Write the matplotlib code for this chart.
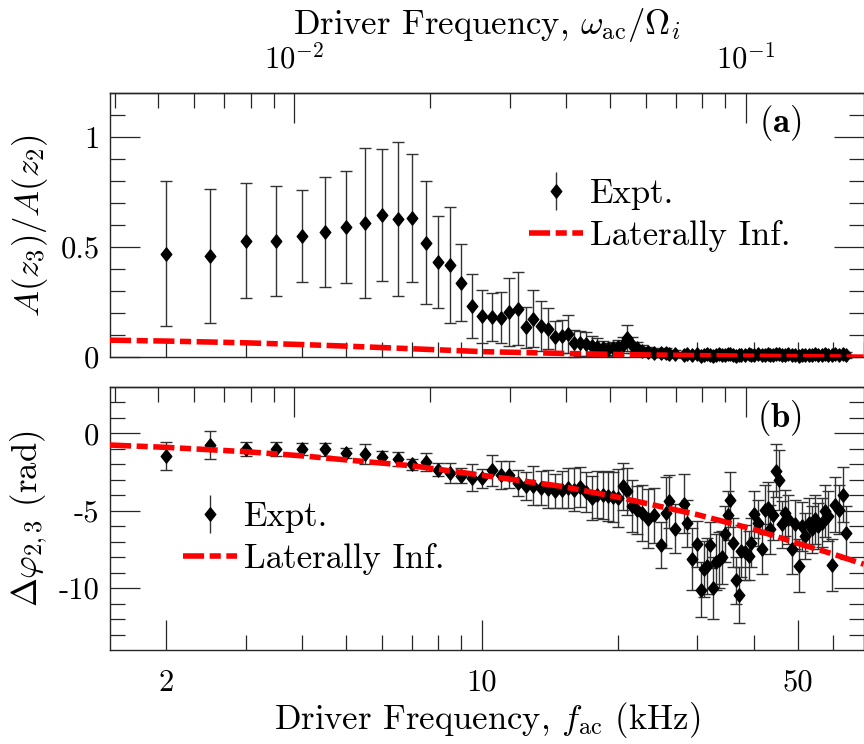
import numpy as np
import matplotlib
matplotlib.use('Agg')
import matplotlib.pyplot as plt
from matplotlib.ticker import FixedLocator, FixedFormatter, NullFormatter
from matplotlib.path import Path
from matplotlib.container import ErrorbarContainer
from matplotlib.legend_handler import HandlerErrorbar

plt.rcParams.update({
    'font.family': 'serif',
    'font.serif': ['cmr10'],
    'mathtext.fontset': 'cm',
    'axes.unicode_minus': False,
    'axes.formatter.use_mathtext': True,
    'axes.linewidth': 1.0,
    'axes.edgecolor': '#262626',
})

# measured driver frequencies (kHz)
freq_khz = [2.0, 2.5, 3.0, 3.5, 4.0, 4.5, 5.0, 5.5, 6.0, 6.5, 7.0, 7.5, 8.0, 8.5,
            9.0, 9.5, 10.0, 10.5, 11.0, 11.5, 12.0, 12.5, 13.0, 13.5, 14.0, 14.5,
            15.0, 15.5, 16.0, 16.5, 17.0, 17.5, 18.0, 18.5, 19.0, 19.5, 20.0,
            20.5, 21.0, 21.5, 22.0, 22.6, 23.3, 24.0, 24.9, 25.5, 25.9, 26.7,
            28.0, 28.4, 29.2, 30.0, 30.5, 31.0, 31.5, 32.0, 32.5, 33.0, 33.5,
            34.0, 34.5, 35.0, 35.5, 36.0, 36.5, 37.0, 37.5, 38.2, 39.0, 39.5,
            40.0, 40.9, 41.7, 42.3, 43.0, 43.5, 44.0, 44.7, 45.5, 46.2, 46.9,
            47.7, 48.5, 49.3, 50.3, 51.2, 52.0, 53.0, 53.8, 54.7, 55.6, 56.6,
            57.6, 58.5, 59.5, 60.6, 61.6, 63.0, 64.0]

# amplitude ratio A(z3)/A(z2) and its uncertainty
amp_ratio = [0.47, 0.46, 0.53, 0.53, 0.55, 0.57, 0.59, 0.61, 0.645, 0.63, 0.633,
             0.52, 0.433, 0.418, 0.338, 0.232, 0.186, 0.183, 0.179, 0.206, 0.221,
             0.135, 0.174, 0.14, 0.13, 0.092, 0.095, 0.105, 0.062, 0.062, 0.06,
             0.05, 0.045, 0.04, 0.035, 0.04, 0.045,
             0.055, 0.088, 0.055, 0.04, 0.03, 0.025, 0.02, 0.018, 0.02, 0.012,
             0.015, 0.01, 0.013, 0.008, 0.012, 0.006, 0.01, 0.014, 0.009, 0.007,
             0.011, 0.013, 0.008, 0.01, 0.012, 0.015, 0.009, 0.006, 0.008, 0.011,
             0.01, 0.012, 0.009, 0.011, 0.013, 0.008, 0.01, 0.012, 0.009, 0.011,
             0.014, 0.012, 0.009, 0.01, 0.012, 0.008, 0.011, 0.007, 0.01, 0.009,
             0.011, 0.01, 0.012, 0.009, 0.01, 0.013, 0.011, 0.008, 0.012, 0.01,
             0.013, 0.009]
amp_err = [0.33, 0.305, 0.26, 0.25, 0.21, 0.25, 0.255, 0.34, 0.30, 0.35, 0.29,
           0.28, 0.21, 0.265, 0.175, 0.144, 0.12, 0.11, 0.115, 0.155, 0.164,
           0.095, 0.13, 0.113, 0.095, 0.072, 0.075, 0.085, 0.06, 0.055, 0.055,
           0.045, 0.04, 0.035, 0.03, 0.03, 0.035,
           0.035, 0.06, 0.035, 0.03, 0.025, 0.022, 0.02, 0.018, 0.02, 0.016,
           0.016, 0.014, 0.015, 0.013, 0.014, 0.012, 0.015, 0.014, 0.013, 0.012,
           0.014, 0.015, 0.013, 0.014, 0.012, 0.015, 0.014, 0.013, 0.012, 0.014,
           0.015, 0.013, 0.014, 0.012, 0.014, 0.013, 0.015, 0.014, 0.012, 0.013,
           0.015, 0.014, 0.012, 0.013, 0.014, 0.012, 0.015, 0.013, 0.014, 0.012,
           0.013, 0.015, 0.014, 0.012, 0.013, 0.015, 0.014, 0.012, 0.013, 0.014,
           0.015, 0.013]

# phase difference between z2 and z3 (rad) and its uncertainty
phase_diff = [-1.46, -0.75, -1.0, -1.03, -1.0, -1.03, -1.28, -1.33, -1.5, -1.65,
              -1.99, -1.86, -2.35, -2.55, -2.72, -2.85, -2.9, -2.38, -2.67, -2.67,
              -3.2, -3.42, -3.38, -3.53, -3.59, -3.74, -3.63, -3.53, -3.63, -3.46,
              -3.8, -4.17, -3.95, -4.0, -4.06, -4.1, -4.17,
              -3.42, -3.74, -4.7, -4.92, -5.13, -5.51, -5.3, -7.2, -5.13, -4.38,
              -6.15, -4.55, -5.81, -8.12, -7.16, -10.09, -8.76, -8.55, -7.2, -10.0,
              -8.33, -8.2, -8.01, -6.52, -5.3, -4.27, -7.05, -9.5, -10.43, -7.6,
              -7.69, -7.9, -7.05, -5.23, -5.77, -7.48, -4.92, -4.81, -6.2, -5.3,
              -2.4, -2.99, -5.88, -5.13, -5.56, -7.48, -5.88, -8.55, -6.0, -6.63,
              -5.77, -6.2, -5.56, -6.0, -5.77, -5.02, -5.35, -8.5, -4.6, -4.92,
              -3.95, -6.41]
phase_err = [0.9, 0.93, 0.43, 0.45, 0.4, 0.4, 0.32, 0.64, 0.37, 0.43, 0.37, 0.57,
             0.43, 0.64, 0.5, 0.85, 0.6, 1.0, 0.92, 0.88, 0.82, 0.9, 1.25, 1.1,
             1.2, 1.1, 1.2, 1.3, 1.4, 1.3, 1.3, 1.4, 1.5, 1.5, 1.6, 1.6, 1.9,
             1.5, 1.5, 1.7, 1.55, 1.8, 1.9, 1.8, 1.5, 2.3, 1.7, 1.6, 1.9, 1.5,
             2.0, 1.5, 1.8, 1.8, 1.8, 1.5, 2.0, 1.8, 1.8, 1.7, 1.8, 1.6, 1.8,
             1.6, 1.5, 1.8, 1.7, 1.8, 1.6, 1.6, 1.5, 1.5, 1.6, 1.6, 1.7, 1.6,
             1.6, 1.7, 1.95, 1.5, 1.5, 1.6, 1.6, 1.6, 1.7, 1.6, 1.5, 1.6, 1.5,
             1.6, 1.5, 1.6, 1.7, 1.6, 1.7, 1.8, 1.6, 1.8, 1.7]

# laterally infinite model
model_freq = [1.5, 2.0, 3.0, 4.0, 5.0, 7.0, 10.0, 15.0, 20.0, 30.0, 40.0, 50.0, 60.0, 70.0]
model_amp = [0.077, 0.073, 0.065, 0.057, 0.050, 0.038, 0.025, 0.017, 0.012, 0.007,
             0.004, 0.002, 0.001, 0.0]
model_phase = [-0.75, -0.9, -1.18, -1.45, -1.71, -2.09, -2.7, -3.42, -4.12, -5.25,
               -6.2, -7.1, -7.8, -8.45]

omega_i_khz = 384.0   # ion cyclotron frequency / 2pi


def to_omega(f):
    return np.asarray(f) / omega_i_khz


def to_freq(w):
    return np.asarray(w) * omega_i_khz


diamond = Path([(0, 1), (0.8, 0), (0, -1), (-0.8, 0), (0, 1)],
               [Path.MOVETO, Path.LINETO, Path.LINETO, Path.LINETO, Path.CLOSEPOLY])
ebar_kw = dict(fmt='none', ecolor='#333333', elinewidth=1.0, capsize=4, capthick=1.0,
               clip_on=False, zorder=2)
mark_kw = dict(marker=diamond, markersize=9.5, color='k', linestyle='none',
               clip_on=False, zorder=3)
model_kw = dict(color='#ff0000', lw=4, linestyle=(0, (3.8, 1.0, 2.0, 1.0)), zorder=4)

fig = plt.figure(figsize=(8.64, 7.44), dpi=100)
ax1 = fig.add_axes([0.1273, 0.520, 0.8722, 0.3548])
ax2 = fig.add_axes([0.1273, 0.1263, 0.8722, 0.3535])

MAJ = 21.6
MIN = 10.8
omega_minor = [k * 1e-3 for k in range(4, 10)] + [k * 1e-2 for k in range(2, 10)]

for ax in (ax1, ax2):
    ax.set_xscale('log')
    ax.set_xlim(1.5, 70)
    ax.xaxis.set_major_locator(FixedLocator([2, 10, 50]))
    ax.xaxis.set_major_formatter(FixedFormatter(['2', '10', '50']))
    ax.xaxis.set_minor_locator(FixedLocator([3, 4, 5, 6, 7, 8, 9, 20, 30, 40, 60, 70]))
    ax.xaxis.set_minor_formatter(NullFormatter())
    ax.tick_params(which='both', direction='in', right=True, top=False,
                   labelsize=22, pad=7.5, color='#262626', width=0.9)
    ax.tick_params(which='major', length=MAJ)
    ax.tick_params(which='minor', length=MIN)

    sec = ax.secondary_xaxis('top', functions=(to_omega, to_freq))
    sec.xaxis.set_major_locator(FixedLocator([0.01, 0.1]))
    sec.xaxis.set_major_formatter(FixedFormatter([r'$10^{-2}$', r'$10^{-1}$']))
    sec.xaxis.set_minor_locator(FixedLocator(omega_minor))
    sec.xaxis.set_minor_formatter(NullFormatter())
    sec.tick_params(which='both', direction='in', labelsize=22, pad=14,
                    color='#262626', width=0.9)
    sec.tick_params(which='major', length=MAJ)
    sec.tick_params(which='minor', length=MIN)
    if ax is ax1:
        sec.set_xlabel(r'Driver Frequency, $\omega_{\rm ac}/\Omega_i$', fontsize=25,
                       labelpad=6)
    else:
        sec.tick_params(labeltop=False)

# top panel: amplitude ratio
ax1.errorbar(freq_khz, amp_ratio, yerr=amp_err, **ebar_kw)
ax1.plot(freq_khz, amp_ratio, **mark_kw)
ax1.plot(model_freq, model_amp, **model_kw)
ax1.set_ylim(0, 1.2)
ax1.set_yticks([0, 0.5, 1])
ax1.set_yticklabels(['0', '0.5', '1'])
ax1.set_yticks(np.arange(0.1, 1.2, 0.1), minor=True)
ax1.tick_params(axis='x', labelbottom=False)
ax1.tick_params(axis='x', which='major', length=MIN)
ax1.set_ylabel(r'$A(z_3)/A(z_2)$', fontsize=25)
ax1.yaxis.set_label_coords(-0.080, 0.5)
ax1.text(0.889, 0.886, r'$(\mathbf{a})$', transform=ax1.transAxes,
         fontsize=25, ha='center', va='center')

h_expt = ax1.errorbar([], [], yerr=[], fmt='none', ecolor='#333333', elinewidth=1.0,
                      capsize=4, capthick=1.0)
h_mark, = ax1.plot([], [], **{k: v for k, v in mark_kw.items() if k != 'clip_on'})
h_model, = ax1.plot([], [], **model_kw)
leg_kw = dict(fontsize=25, frameon=False, handlelength=1.55, handletextpad=0.2,
              labelspacing=0.3, borderpad=0, borderaxespad=0, loc='upper left',
              handler_map={ErrorbarContainer: HandlerErrorbar(yerr_size=0.55)})
ax1.legend([(h_expt, h_mark), h_model], ['Expt.', 'Laterally Inf.'],
           bbox_to_anchor=(0.556, 0.678), **leg_kw)

# bottom panel: phase difference
ax2.errorbar(freq_khz, phase_diff, yerr=phase_err, **ebar_kw)
ax2.plot(freq_khz, phase_diff, **mark_kw)
ax2.plot(model_freq, model_phase, **model_kw)
ax2.set_ylim(-14, 3)
ax2.set_yticks([0, -5, -10])
ax2.set_yticklabels(['0', '-5', '-10'])
ax2.set_yticks(np.arange(-13, 3, 1), minor=True)
ax2.set_ylabel(r'$\Delta\varphi_{2,3}$ (rad)', fontsize=25)
ax2.yaxis.set_label_coords(-0.080, 0.5)
ax2.set_xlabel(r'Driver Frequency, $f_{\rm ac}$ (kHz)', fontsize=25, labelpad=2)
ax2.tick_params(axis='x', which='major', pad=14)
ax2.text(0.889, 0.882, r'$(\mathbf{b})$', transform=ax2.transAxes,
         fontsize=25, ha='center', va='center')
ax2.legend([(h_expt, h_mark), h_model], ['Expt.', 'Laterally Inf.'],
           bbox_to_anchor=(0.097, 0.565), **leg_kw)

fig.savefig('out.png', dpi=100)
